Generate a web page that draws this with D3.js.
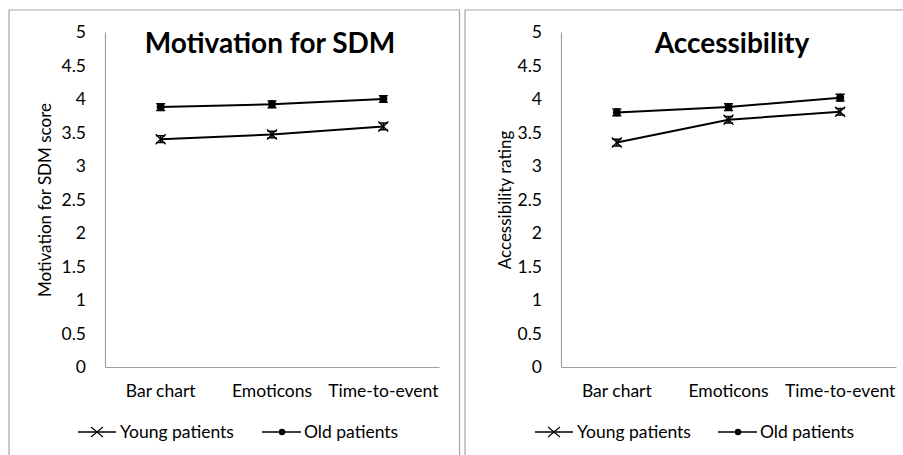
<!DOCTYPE html>
<html><head><meta charset="utf-8">
<script src="https://cdn.jsdelivr.net/npm/d3@7"></script>
<style>body{margin:0;background:#fff}svg{display:block}text{font-family:Lato,"Open Sans",sans-serif;fill:#000}</style>
</head><body><svg id="c" width="903" height="455"></svg>
<script>
const categories = ["Bar chart", "Emoticons", "Time-to-event"];
const yTicks = [0, 0.5, 1, 1.5, 2, 2.5, 3, 3.5, 4, 4.5, 5];
const seriesNames = ["Young patients", "Old patients"];
const motivationYoung = [3.40, 3.47, 3.59];
const motivationOld = [3.88, 3.92, 4.00];
const motivationErrYoung = [0.05, 0.05, 0.05];
const motivationErrOld = [0.05, 0.05, 0.05];
const accessYoung = [3.35, 3.69, 3.81];
const accessOld = [3.80, 3.88, 4.02];
const accessErrYoung = [0.05, 0.05, 0.05];
const accessErrOld = [0.05, 0.05, 0.05];

const svg = d3.select("#c");
const borderCol = "#a6a6a6";

function panel(opt) {
  const g = svg.append("g");
  g.append("path").attr("d", `M${opt.fx0},455V${opt.fy}H${opt.fx1}V455`)
    .attr("fill","none").attr("stroke",borderCol).attr("stroke-width",1.2);
  const x = d3.scaleBand().domain(categories).range([opt.x0, opt.x1]);
  const y = d3.scaleLinear().domain([0,5]).range([367, 32]);
  const ya = g.append("g").attr("transform",`translate(${opt.x0},0)`)
    .call(d3.axisLeft(y).tickValues(yTicks).tickSize(0).tickPadding(19).tickFormat(d3.format("~g")));
  ya.select(".domain").attr("stroke","#a0a0a0").attr("stroke-width",1.2);
  ya.selectAll("text").style("font-size","17.5px");
  const xa = g.append("g").attr("transform","translate(0,367)")
    .call(d3.axisBottom(x).tickSize(0).tickPadding(18));
  xa.select(".domain").attr("stroke","#a0a0a0").attr("stroke-width",1.2);
  xa.selectAll("text").style("font-size","17.5px");
  g.append("text").attr("x",opt.tx).attr("y",53).attr("text-anchor","middle")
    .style("font-size","28px").style("font-weight","bold").text(opt.title);
  g.append("text").attr("transform",`translate(${opt.ytx},200) rotate(-90)`)
    .attr("text-anchor","middle").style("font-size","17px").text(opt.ytitle);
  const cx = d => x(d) + x.bandwidth()/2;
  const line = d3.line().x((d,i)=>cx(categories[i])).y(d=>y(d));
  const series = [
    {vals: opt.young, err: opt.errY, type:"x"},
    {vals: opt.old, err: opt.errO, type:"dot"}
  ];
  series.forEach(s => {
    g.append("path").datum(s.vals).attr("d",line).attr("fill","none")
      .attr("stroke","#000").attr("stroke-width",2);
    s.vals.forEach((v,i) => {
      const px = cx(categories[i]), py = y(v);
      const e0 = y(v - s.err[i]), e1 = y(v + s.err[i]);
      g.append("path").attr("d",`M${px},${e0}V${e1}M${px-4.5},${e0}H${px+4.5}M${px-4.5},${e1}H${px+4.5}`)
        .attr("stroke","#000").attr("stroke-width",1.5).attr("fill","none");
      if (s.type === "dot") {
        g.append("circle").attr("cx",px).attr("cy",py).attr("r",4).attr("fill","#000");
      } else {
        g.append("path").attr("d",`M${px-5},${py-5}L${px+5},${py+5}M${px-5},${py+5}L${px+5},${py-5}`)
          .attr("stroke","#000").attr("stroke-width",1.3);
      }
    });
  });
  const ly = 432;
  const lg = g.append("g");
  lg.append("path").attr("d",`M${opt.l1},${ly}H${opt.l1+38}`).attr("stroke","#000").attr("stroke-width",1.5);
  const m1 = opt.l1+19;
  lg.append("path").attr("d",`M${m1-6},${ly-5}L${m1+6},${ly+5}M${m1-6},${ly+5}L${m1+6},${ly-5}`).attr("stroke","#000").attr("stroke-width",1.1);
  lg.append("text").attr("x",opt.l1+42).attr("y",ly+6).style("font-size","17.5px").text(seriesNames[0]);
  lg.append("path").attr("d",`M${opt.l2},${ly}H${opt.l2+39}`).attr("stroke","#000").attr("stroke-width",1.5);
  lg.append("circle").attr("cx",opt.l2+20).attr("cy",ly).attr("r",3.2).attr("fill","#000");
  lg.append("text").attr("x",opt.l2+42).attr("y",ly+6).style("font-size","17.5px").text(seriesNames[1]);
}

panel({fx0:9, fx1:459.5, fy:10, x0:105, x1:439, tx:270, title:"Motivation for SDM",
  ytx:51, ytitle:"Motivation for SDM score", young:motivationYoung, old:motivationOld,
  errY:motivationErrYoung, errO:motivationErrOld, l1:78, l2:262});
panel({fx0:465, fx1:910, fy:10, x0:561, x1:896, tx:732, title:"Accessibility",
  ytx:511, ytitle:"Accessibility rating", young:accessYoung, old:accessOld,
  errY:accessErrYoung, errO:accessErrOld, l1:535, l2:718});
</script></body></html>
